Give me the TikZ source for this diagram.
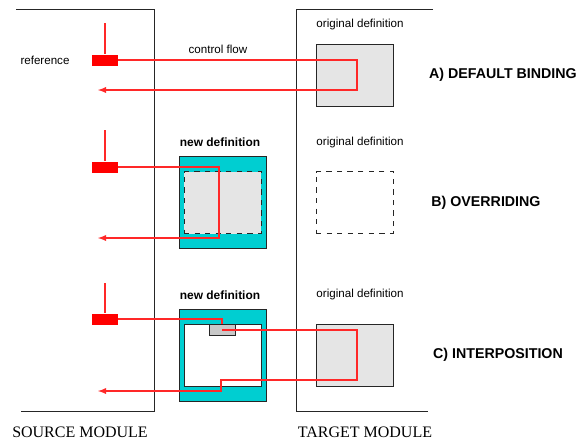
\documentclass[tikz,border=0pt]{standalone}
\usepackage{fontspec}
\setmainfont{Liberation Serif}
\setsansfont{Liberation Sans}
\usetikzlibrary{positioning}
\definecolor{ciano}{RGB}{0,206,209}
\definecolor{grigio}{RGB}{229,229,229}
\definecolor{grigioscuro}{RGB}{200,200,200}
\definecolor{rosso}{RGB}{255,40,40}

\begin{document}
\begin{tikzpicture}[x=0.02cm, y=-0.02cm,
    etichetta/.style={font=\sffamily\fontsize{6.6}{8}\selectfont, inner sep=0pt},
    etigrassetto/.style={font=\sffamily\bfseries\fontsize{6.8}{8}\selectfont, inner sep=0pt},
    caso/.style={font=\sffamily\bfseries\fontsize{8.1}{10}\selectfont, inner sep=0pt},
    modulo/.style={font=\rmfamily\fontsize{9.1}{11}\selectfont, inner sep=0pt},
    riferimento/.style={fill=red, inner sep=0pt, minimum width=0.52cm, minimum height=0.22cm},
    definizione/.style={draw=black!85, line width=0.5pt, inner sep=0pt, minimum width=1.54cm, minimum height=1.24cm},
    nuova/.style={draw=black!85, fill=ciano, line width=0.5pt, inner sep=0pt, minimum width=1.74cm, minimum height=1.84cm},
    flusso/.style={draw=rosso, line width=0.62pt}]
        \useasboundingbox (0,0) rectangle (581,440);
        %cornici dei moduli
        \draw[black!85, line width=0.55pt] (16,9) -- (154,9) -- (154,411) -- (21,411);
        \draw[black!85, line width=0.55pt] (433,9) -- (296,9) -- (296,411) -- (428,411);
        \node[modulo] (srcMod) at (80,432) {SOURCE MODULE};
        \node[modulo] (tgtMod) at (365,432) {TARGET MODULE};
        %caso A
        \node[riferimento] (refA) at (105,60) {};
        \draw[flusso] (refA.north) -- ++(0,-31);
        \node[etichetta] (lblRef) at (45,60) {reference};
        \node[etichetta] (lblFlow) at (218,49) {control flow};
        \node[etichetta] (origLblA) at (360,24) {original definition};
        \node[definizione, fill=grigio] (origA) at (354.5,75) {};
        \node[caso] (casoA) at (503,75) {A) DEFAULT BINDING};
        \coordinate (giroA) at (357,90);
        \coordinate (fineA) at (98,90);
        \draw[flusso, -latex] (refA.east) -| (giroA) -- (fineA);
        %caso B
        \node[riferimento] (refB) at (105,167) {};
        \draw[flusso] (refB.north) -- ++(0,-31);
        \node[etigrassetto] (newLblB) at (220,142) {new definition};
        \node[nuova] (newB) at (222.5,202) {};
        \node[definizione, dashed, fill=grigio] (innerB) at (222.5,202.5) {};
        \node[etichetta] (origLblB) at (360,142) {original definition};
        \node[definizione, dashed] (origB) at (354.5,202.5) {};
        \node[caso] (casoB) at (486,203) {B) OVERRIDING};
        \coordinate (giroB) at (219,238);
        \coordinate (fineB) at (98,238);
        \draw[flusso, -latex] (refB.east) -| (giroB) -- (fineB);
        %caso C
        \node[riferimento] (refC) at (105,319) {};
        \draw[flusso] (refC.north) -- ++(0,-30);
        \node[etigrassetto] (newLblC) at (220,295) {new definition};
        \node[nuova] (newC) at (222.5,355) {};
        \node[definizione, fill=white] (innerC) at (222.5,355) {};
        \node[draw=black!85, fill=grigioscuro, line width=0.5pt, inner sep=0pt, minimum width=0.52cm, minimum height=0.22cm] (stubC) at (222,330) {};
        \node[etichetta] (origLblC) at (360,294) {original definition};
        \node[definizione, fill=grigio] (origC) at (354.5,355) {};
        \node[caso] (casoC) at (498,355) {C) INTERPOSITION};
        \coordinate (giroC) at (357,380);
        \coordinate (rientroC) at (221,380);
        \coordinate (fineC) at (98,391);
        \draw[flusso] (refC.east) -| (stubC.north);
        \draw[flusso, -latex] (stubC.center) -| (giroC) -- (rientroC) |- (fineC);
\end{tikzpicture}
\end{document}
